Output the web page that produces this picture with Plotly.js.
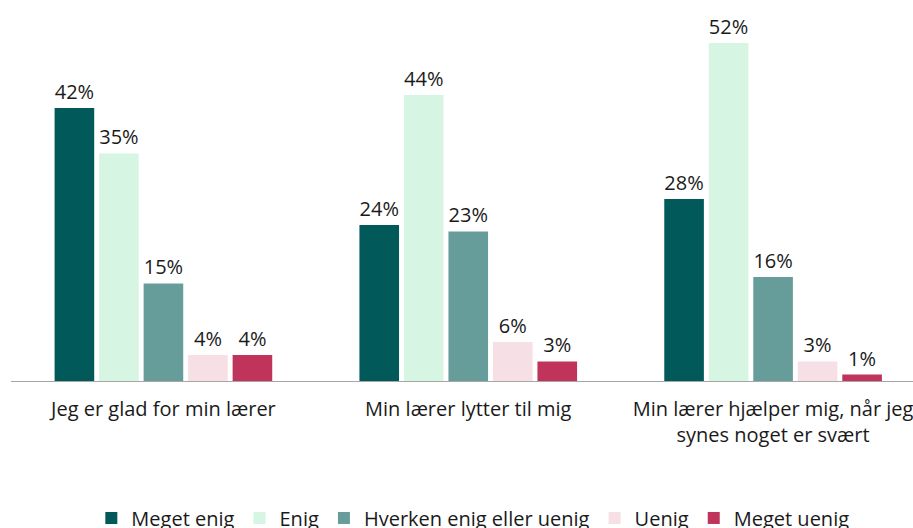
<!DOCTYPE html>
<html>
<head>
<meta charset="utf-8">
<script src="https://cdn.plot.ly/plotly-3.0.1.min.js"></script>
<style>html,body{margin:0;padding:0;background:#fff;}#chart{width:913px;height:528px;}</style>
</head>
<body>
<div id="chart"></div>
<script>
const categories = ["Jeg er glad for min lærer", "Min lærer lytter til mig", "Min lærer hjælper mig, når jeg<br>synes noget er svært"];
const seriesNames = ["Meget enig", "Enig", "Hverken enig eller uenig", "Uenig", "Meget uenig"];
const megetEnig = [42, 24, 28];
const enig = [35, 44, 52];
const hverken = [15, 23, 16];
const uenig = [4, 6, 3];
const megetUenig = [4, 3, 1];
const colors = ["#02595a", "#d6f5e3", "#669d9b", "#f6dfe5", "#c0335a"];

const values = [megetEnig, enig, hverken, uenig, megetUenig];
const traces = values.map((v, i) => ({
  type: "bar",
  name: seriesNames[i],
  x: [0, 1, 2],
  y: v,
  text: v.map(d => d + "%"),
  textposition: "outside",
  cliponaxis: false,
  textfont: {size: 20, color: "#1a1a1a", family: "Open Sans, Noto Sans, sans-serif"},
  marker: {color: colors[i], line: {width: 0}},
  hoverinfo: "none"
}));

const layout = {
  width: 913, height: 528,
  margin: {l: 10.5, r: 0, t: 0, b: 147, autoexpand: false},
  paper_bgcolor: "#fff", plot_bgcolor: "#fff",
  barmode: "group",
  bargap: 0.27,
  bargroupgap: 0.11,
  font: {family: "Open Sans, Noto Sans, sans-serif", color: "#1a1a1a", size: 20},
  xaxis: {
    range: [-0.5, 2.459], automargin: false,
    tickmode: "array", tickvals: [0, 1, 2], ticktext: categories,
    showline: true, linecolor: "#a6a6a6", linewidth: 1.3,
    ticks: "", showgrid: false, zeroline: false, ticklabelstandoff: 10,
    ticklabeloverflow: "allow",
    tickfont: {size: 20, color: "#1a1a1a"}
  },
  yaxis: {
    range: [0, 58.6], visible: false, showgrid: false, zeroline: false, automargin: false
  },
  showlegend: true,
  legend: {
    orientation: "h", x: 0.512, xanchor: "center", yref: "container", y: 0.019, yanchor: "middle",
    font: {size: 20, color: "#1a1a1a"}, traceorder: "normal"
  }
};

Plotly.newPlot("chart", traces, layout, {staticPlot: true, displayModeBar: false});
</script>
</body>
</html>
